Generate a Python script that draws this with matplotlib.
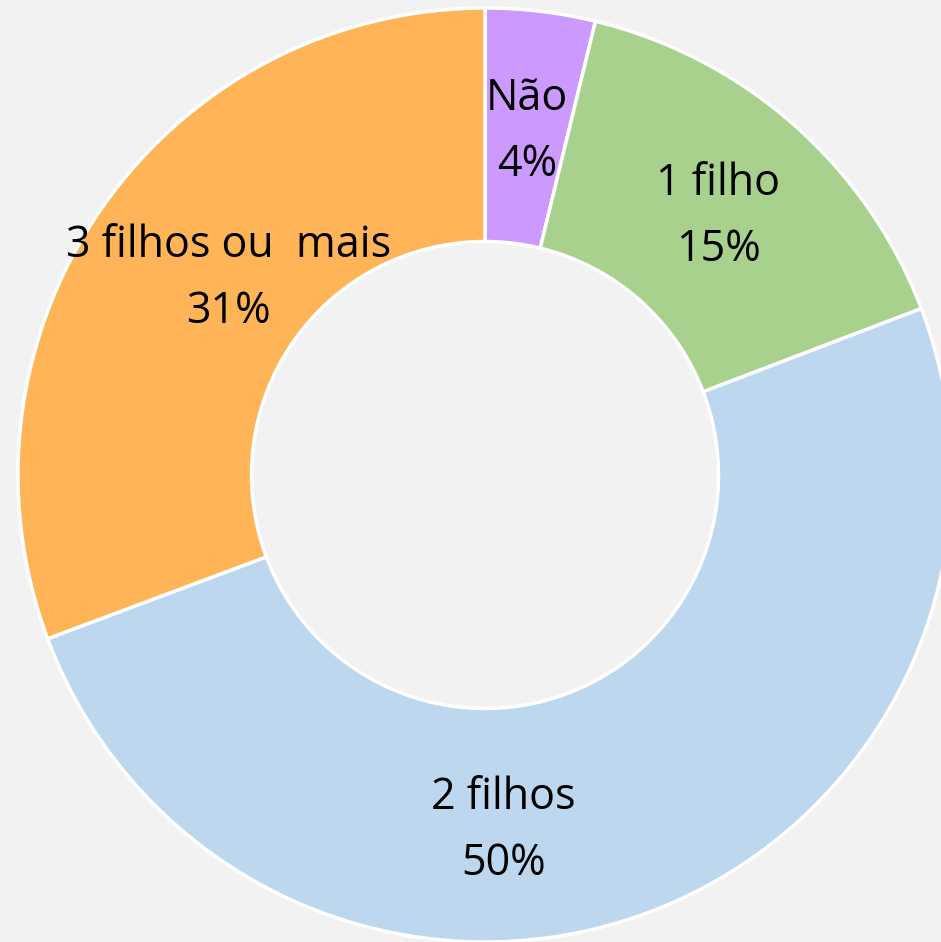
import numpy as np
import matplotlib
matplotlib.use("Agg")
import matplotlib.pyplot as plt

categories = ["Não", "1 filho", "2 filhos", "3 filhos ou  mais"]
values = [3.8, 15.4, 50.1, 30.7]
colors = ["#cc99ff", "#a9d18e", "#bdd7ee", "#ffb557"]

plt.rcParams['font.family'] = ['Open Sans', 'DejaVu Sans']

W, H = 941, 942
fig = plt.figure(figsize=(W / 100, H / 100), dpi=100, facecolor="#f2f2f2")
cx, cy, R = 485, 475, 467
ax = fig.add_axes([(cx - R) / W, (H - cy - R) / H, 2 * R / W, 2 * R / H])
ax.set_facecolor("#f2f2f2")

wedges, _ = ax.pie(values, colors=colors, startangle=90, counterclock=False,
                   radius=1.0,
                   wedgeprops=dict(width=0.5, edgecolor="white", linewidth=2.5))
ax.set_xlim(-1, 1)
ax.set_ylim(-1, 1)
ax.axis("off")

# label anchor positions (axes data units), as placed in the reference
label_pos = [(0.09, 0.735), (0.499, 0.553), (0.04, -0.762), (-0.55, 0.42)]

total = sum(values)
for (lx, ly), cat, v in zip(label_pos, categories, values):
    ax.text(lx, ly, f"{cat}\n{round(v / total * 100):.0f}%",
            ha="center", va="center", fontsize=31, color="black", linespacing=1.65)

fig.savefig("out.png", dpi=100, facecolor=fig.get_facecolor())
